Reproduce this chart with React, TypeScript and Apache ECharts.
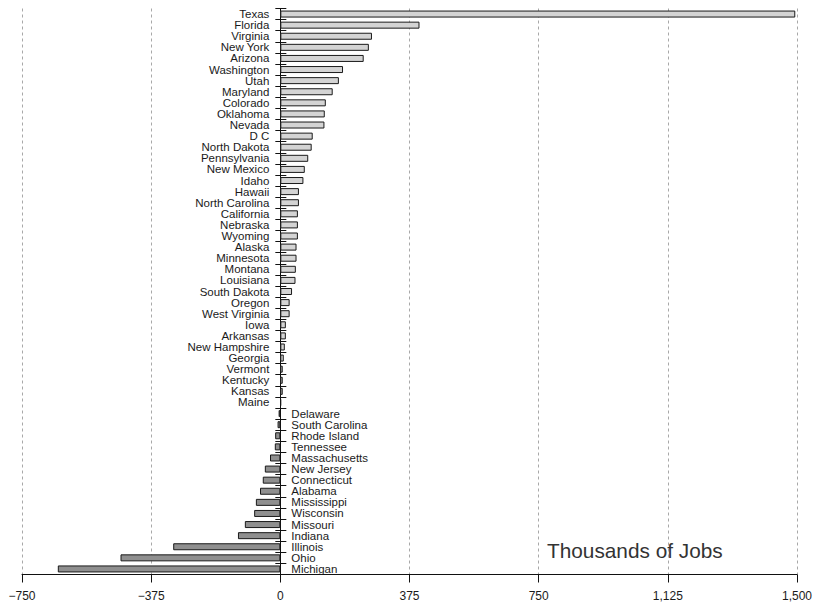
import React, { useEffect, useRef } from 'react';
import * as echarts from 'echarts';

const states = [
  'Texas', 'Florida', 'Virginia', 'New York', 'Arizona', 'Washington', 'Utah', 'Maryland',
  'Colorado', 'Oklahoma', 'Nevada', 'D C', 'North Dakota', 'Pennsylvania', 'New Mexico', 'Idaho',
  'Hawaii', 'North Carolina', 'California', 'Nebraska', 'Wyoming', 'Alaska', 'Minnesota', 'Montana',
  'Louisiana', 'South Dakota', 'Oregon', 'West Virginia', 'Iowa', 'Arkansas', 'New Hampshire',
  'Georgia', 'Vermont', 'Kentucky', 'Kansas', 'Maine', 'Delaware', 'South Carolina', 'Rhode Island',
  'Tennessee', 'Massachusetts', 'New Jersey', 'Connecticut', 'Alabama', 'Mississippi', 'Wisconsin',
  'Missouri', 'Indiana', 'Illinois', 'Ohio', 'Michigan',
];

const jobs = [
  1495, 404, 266, 257, 242, 182, 170, 152,
  132, 129, 128, 94, 91, 81, 71, 67,
  54, 54, 51, 51, 51, 47, 47, 45,
  44, 34, 27, 27, 16, 16, 13,
  10, 7, 7, 7, 2, -5, -8, -15,
  -16, -30, -45, -51, -59, -71, -76,
  -103, -123, -311, -464, -646,
];

const tickValues = [-750, -375, 0, 375, 750, 1125, 1500];
const tickLabels = ['\u2212750', '\u2212375', '0', '375', '750', '1,125', '1,500'];

const FONT = 'Liberation Sans';
const GRID_LEFT = 22;
const GRID_RIGHT = 18;
const X_MIN = -750;
const X_MAX = 1500;

export default function App() {
  const ref = useRef<HTMLDivElement>(null);

  useEffect(() => {
    document.body.style.margin = '0';
    const chart = echarts.init(ref.current!, null, { renderer: 'svg' });
    const valueOf: Record<string, number> = {};
    states.forEach((s, i) => (valueOf[s] = jobs[i]));

    // offsets that bring the category axes onto the zero line
    const plotWidth = 815 - GRID_LEFT - GRID_RIGHT;
    const zeroFromRight = (plotWidth * X_MAX) / (X_MAX - X_MIN);
    const zeroFromLeft = (plotWidth * -X_MIN) / (X_MAX - X_MIN);

    chart.setOption({
      animation: false,
      backgroundColor: '#ffffff',
      grid: {
        left: GRID_LEFT,
        right: GRID_RIGHT,
        top: 8.5,
        bottom: 29.5,
        containLabel: false,
        outerBoundsMode: 'none',
      },
      xAxis: {
        type: 'value',
        min: X_MIN,
        max: X_MAX,
        interval: 375,
        axisLine: { show: true, onZero: false, lineStyle: { color: '#111', width: 1 } },
        axisTick: { show: true, length: 8, lineStyle: { color: '#111' } },
        axisLabel: {
          margin: 15,
          fontFamily: FONT,
          fontSize: 12,
          color: '#1a1a1a',
          formatter: (v: number) => {
            const i = tickValues.indexOf(v);
            return i >= 0 ? tickLabels[i] : '';
          },
        },
        splitLine: { show: true, lineStyle: { color: '#a8a8a8', type: [3, 3], width: 1 } },
      },
      yAxis: [
        {
          type: 'category',
          data: states,
          inverse: true,
          position: 'left',
          offset: -zeroFromLeft,
          axisLine: { show: true, onZero: false, lineStyle: { color: '#111' } },
          axisTick: { show: true, length: 5, lineStyle: { color: '#111' } },
          axisLabel: {
            margin: 11,
            fontFamily: FONT,
            fontSize: 11.5,
            color: '#1a1a1a',
            interval: 0,
            formatter: (s: string) => (valueOf[s] >= 0 ? s : ''),
          },
          splitLine: { show: false },
        },
        {
          type: 'category',
          data: states,
          inverse: true,
          position: 'right',
          offset: -zeroFromRight,
          axisLine: { show: true, onZero: false, lineStyle: { color: '#111' } },
          axisTick: { show: true, length: 6, lineStyle: { color: '#111' } },
          axisLabel: {
            margin: 11,
            fontFamily: FONT,
            fontSize: 11.5,
            color: '#1a1a1a',
            interval: 0,
            formatter: (s: string) => (valueOf[s] < 0 ? s : ''),
          },
          splitLine: { show: false },
        },
      ],
      graphic: [
        {
          type: 'text',
          left: 547,
          top: 540,
          style: {
            text: 'Thousands of Jobs',
            fontFamily: FONT,
            fontSize: 20.8,
            fill: '#333',
          },
        },
      ],
      series: [
        {
          type: 'bar',
          yAxisIndex: 0,
          data: jobs,
          barWidth: 7,
          itemStyle: {
            color: (p: any) => (p.value >= 0 ? '#d4d4d4' : '#8f8f8f'),
            borderColor: '#1a1a1a',
            borderWidth: 1,
          },
        },
      ],
    });
    return () => chart.dispose();
  }, []);

  return <div ref={ref} style={{ width: 815, height: 604 }} />;
}
